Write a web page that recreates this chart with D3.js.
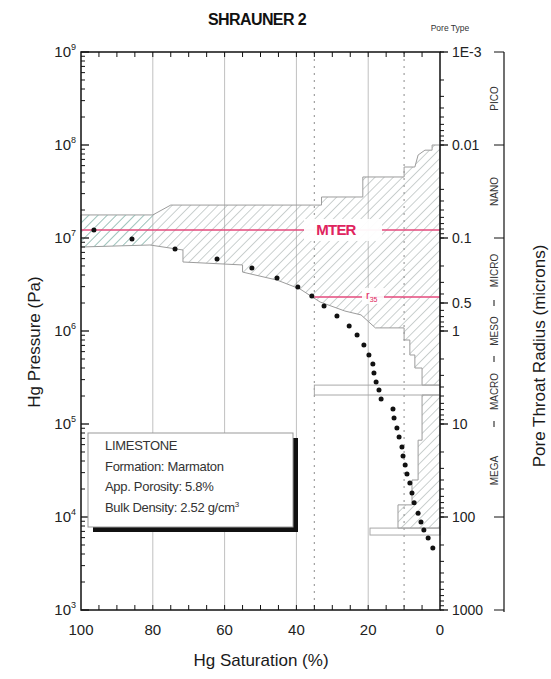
<!DOCTYPE html>
<html>
<head>
<meta charset="utf-8">
<script src="https://cdn.jsdelivr.net/npm/d3@7.9.0/dist/d3.min.js"></script>
<style>
  body { margin: 0; background: #fff; }
  svg { display: block; font-family: "Liberation Sans", Arial, sans-serif; }
</style>
</head>
<body>
<svg id="chart" width="551" height="679"></svg>
<script>
// capillary pressure points (Hg saturation %, pressure Pa)
const sat = [96.4, 85.8, 73.8, 62.1, 52.4, 45.4, 39.6, 35.7, 32.3, 28.7, 25.3, 23.1, 21.2, 19.8,
  18.7, 18.4, 17.8, 17.0, 16.4, 13.1, 12.8, 12.0, 11.4, 10.6, 10.3, 9.7, 9.2, 8.4, 7.8, 7.2,
  6.1, 5.3, 4.5, 3.3, 2.0];
const pres = [1.22e7, 9.75e6, 7.62e6, 5.94e6, 4.75e6, 3.72e6, 2.97e6, 2.38e6, 1.86e6, 1.45e6,
  1.13e6, 9.06e5, 7.07e5, 5.52e5, 4.42e5, 3.53e5, 2.83e5, 2.32e5, 1.86e5, 1.45e5, 1.16e5,
  9.06e4, 7.25e4, 5.66e4, 4.53e4, 3.62e4, 2.90e4, 2.32e4, 1.81e4, 1.42e4, 1.10e4, 8.84e3,
  7.25e3, 5.94e3, 4.64e3];

// hatched envelope outline (upper edge left->right, then lower edge right->left)
const envSat = [100, 80, 75, 33, 33, 21.5, 21.5, 10, 10, 7, 6.1, 4.2, 2.2, 2.2, 0,
  0, 5, 5, 7, 7, 8.4, 8.4, 10, 10, 18, 22, 26.5, 33.4, 39, 45.4, 55, 55, 71.6, 71.6, 80.8, 100];
const envP = [1.77e7, 1.77e7, 2.26e7, 2.26e7, 2.76e7, 2.76e7, 4.53e7, 4.53e7, 5.8e7, 5.8e7, 7.8e7, 8.8e7, 8.8e7, 1e8, 1e8,
  2.62e5, 2.62e5, 4.0e5, 4.0e5, 5.52e5, 5.52e5, 8.0e5, 8.0e5, 1.08e6, 1.08e6, 1.49e6, 1.64e6, 2.05e6, 2.83e6, 3.53e6, 4.3e6, 5.13e6, 5.52e6, 7.43e6, 8.41e6, 8.0e6];
const tealSat = [100, 80, 80.8, 100];
const tealP = [1.77e7, 1.77e7, 8.41e6, 8.0e6];
const stripSat = [5, 0, 0, 11.7, 11.7, 7.8, 7.8, 6.1, 6.1, 5];
const stripP = [2.05e5, 2.05e5, 7.6e3, 7.6e3, 1.35e4, 1.35e4, 2.5e4, 2.5e4, 6.7e4, 6.7e4];
const bandSat = [35, 0];
const bandP = [2.62e5, 2.05e5];
const footSat = [19.5, 0];
const footP = [7.6e3, 6.4e3];

const mterP = 1.22e7;
const r35P = 2.32e6;
const r35Sat = 35;
const cutoffSat = [35, 10];

const satLabels = [100, 80, 60, 40, 20, 0];
const satGrid = [80, 60, 40, 20];
const satMinor = [95, 90, 85, 80, 75, 70, 65, 60, 55, 50, 45, 40, 35, 30, 25, 20, 15, 10, 5];
const pExp = [3, 4, 5, 6, 7, 8, 9];
const radTicks = [1e-3, 0.01, 0.1, 0.5, 1, 10, 100, 1000];
const radLabels = ['1E-3', '0.01', '0.1', '0.5', '1', '10', '100', '1000'];
const poreNames = ['PICO', 'NANO', 'MICRO', 'MESO', 'MACRO', 'MEGA'];
const poreBounds = [1e-3, 0.01, 0.1, 0.5, 2, 10, 100];
const legendLines = ['LIMESTONE', 'Formation: Marmaton', 'App. Porosity: 5.8%', 'Bulk Density: 2.52 g/cm'];

const u = {left: 81, right: 440, top: 52, bottom: 610};
const svg = d3.select('#chart');

const x = d3.scaleLinear().domain([100, 0]).range([u.left, u.right]);
const y = d3.scaleLog().domain([1e3, 1e9]).range([u.bottom, u.top]);
const rScale = d3.scaleLog().domain([1e-3, 1e3]).range([u.top, u.bottom]);

const defs = svg.append('defs');
function hatch(id, color) {
  defs.append('pattern')
    .attr('id', id)
    .attr('patternUnits', 'userSpaceOnUse')
    .attr('width', 6.5).attr('height', 6.5)
    .attr('patternTransform', 'rotate(45)')
    .append('line')
      .attr('x1', 0).attr('y1', 0).attr('x2', 0).attr('y2', 6.5)
      .attr('stroke', color).attr('stroke-width', 0.9);
}
hatch('hatch', '#8c9896');
hatch('hatchTeal', '#7cc2b4');

// gridlines
svg.append('g').selectAll('line').data(satGrid).join('line')
  .attr('x1', d => x(d)).attr('x2', d => x(d))
  .attr('y1', u.top).attr('y2', u.bottom)
  .attr('stroke', '#c0c0c0').attr('stroke-width', 1);

svg.append('g').selectAll('line').data(cutoffSat).join('line')
  .attr('x1', d => x(d)).attr('x2', d => x(d))
  .attr('y1', u.top).attr('y2', u.bottom)
  .attr('stroke', '#a0a0a0').attr('stroke-width', 1.2)
  .attr('stroke-dasharray', '2,5');

const poly = (s, p) => s.map((d, i) => [x(d), y(p[i])].join(',')).join(' ');

svg.append('polygon').attr('points', poly(envSat, envP))
  .attr('fill', 'url(#hatch)').attr('stroke', '#9c9c9c').attr('stroke-width', 1);
svg.append('polygon').attr('points', poly(tealSat, tealP))
  .attr('fill', 'url(#hatchTeal)').attr('stroke', 'none');
svg.append('polygon').attr('points', poly(stripSat, stripP))
  .attr('fill', 'url(#hatch)').attr('stroke', '#9c9c9c').attr('stroke-width', 1);
svg.append('rect')
  .attr('x', x(bandSat[0])).attr('y', y(bandP[0]))
  .attr('width', x(bandSat[1]) - x(bandSat[0])).attr('height', y(bandP[1]) - y(bandP[0]))
  .attr('fill', 'none').attr('stroke', '#a8a8a8');
svg.append('rect')
  .attr('x', x(footSat[0])).attr('y', y(footP[0]))
  .attr('width', x(footSat[1]) - x(footSat[0])).attr('height', y(footP[1]) - y(footP[0]))
  .attr('fill', 'none').attr('stroke', '#a8a8a8');

// MTER and r35 lines
const pink = '#e44a7c';
svg.append('line')
  .attr('x1', u.left).attr('x2', u.right).attr('y1', y(mterP)).attr('y2', y(mterP))
  .attr('stroke', pink).attr('stroke-width', 1.6);
svg.append('rect').attr('x', 304).attr('y', y(mterP) - 11).attr('width', 78).attr('height', 22)
  .attr('fill', '#fff').attr('opacity', 0.95);
svg.append('text').attr('x', 336).attr('y', y(mterP) + 5)
  .attr('text-anchor', 'middle').attr('font-size', 15).attr('font-weight', 'bold')
  .attr('letter-spacing', -0.8).attr('fill', '#e0245e').text('MTER');

svg.append('line')
  .attr('x1', x(r35Sat)).attr('x2', u.right).attr('y1', y(r35P)).attr('y2', y(r35P))
  .attr('stroke', pink).attr('stroke-width', 1.6);
svg.append('rect').attr('x', 362).attr('y', y(r35P) - 9).attr('width', 22).attr('height', 16)
  .attr('fill', '#fff').attr('opacity', 0.9);
const r35t = svg.append('text').attr('x', 366).attr('y', y(r35P) + 2)
  .attr('font-size', 11).attr('fill', '#e0245e');
r35t.append('tspan').text('r');
r35t.append('tspan').attr('dy', 3).attr('font-size', 7).text('35');

// points
svg.append('g').selectAll('circle').data(sat).join('circle')
  .attr('cx', d => x(d)).attr('cy', (d, i) => y(pres[i]))
  .attr('r', 2.5).attr('fill', '#111');

// axes frame
const ink = '#111';
svg.append('rect').attr('x', u.left).attr('y', u.top)
  .attr('width', u.right - u.left).attr('height', u.bottom - u.top)
  .attr('fill', 'none').attr('stroke', ink).attr('stroke-width', 1.5);

// x ticks top & bottom
svg.append('g').selectAll('line').data(satMinor).join('line')
  .attr('x1', d => x(d)).attr('x2', d => x(d))
  .attr('y1', u.bottom).attr('y2', u.bottom - 5).attr('stroke', ink);
svg.append('g').selectAll('line').data(satMinor).join('line')
  .attr('x1', d => x(d)).attr('x2', d => x(d))
  .attr('y1', u.top).attr('y2', u.top + 5).attr('stroke', ink);
svg.append('g').selectAll('text').data(satLabels).join('text')
  .attr('x', d => x(d)).attr('y', 635)
  .attr('text-anchor', 'middle').attr('font-size', 15).attr('fill', '#222')
  .text(d => d);

// left pressure axis (ticks inward)
const minorP = y.ticks().filter(d => !pExp.includes(Math.round(Math.log10(d) * 1000) / 1000));
svg.append('g').selectAll('line').data(minorP).join('line')
  .attr('x1', u.left).attr('x2', u.left + 4)
  .attr('y1', d => y(d)).attr('y2', d => y(d)).attr('stroke', ink);
svg.append('g').selectAll('line').data(pExp).join('line')
  .attr('x1', u.left).attr('x2', u.left + 8)
  .attr('y1', d => y(10 ** d)).attr('y2', d => y(10 ** d)).attr('stroke', ink).attr('stroke-width', 1.3);
const yl = svg.append('g').selectAll('text').data(pExp).join('text')
  .attr('x', 76).attr('y', d => y(10 ** d) + 5)
  .attr('text-anchor', 'end').attr('font-size', 15).attr('fill', '#222');
yl.append('tspan').text('10');
yl.append('tspan').attr('dy', -7).attr('font-size', 9).text(d => d);

// right radius axis (ticks outward)
const minorR = rScale.ticks();
svg.append('g').selectAll('line').data(minorR).join('line')
  .attr('x1', u.right).attr('x2', u.right + 4)
  .attr('y1', d => rScale(d)).attr('y2', d => rScale(d)).attr('stroke', ink);
svg.append('g').selectAll('line').data(radTicks).join('line')
  .attr('x1', u.right).attr('x2', u.right + 8)
  .attr('y1', d => rScale(d)).attr('y2', d => rScale(d)).attr('stroke', ink).attr('stroke-width', 1.3);
svg.append('g').selectAll('text').data(radTicks).join('text')
  .attr('x', 452).attr('y', d => rScale(d) + 5)
  .attr('font-size', 14).attr('fill', '#222')
  .text((d, i) => radLabels[i]);

// pore type bracket
const bx = 504;
svg.append('line').attr('x1', bx).attr('x2', bx).attr('y1', u.top).attr('y2', u.bottom + 2)
  .attr('stroke', ink).attr('stroke-width', 1.2);
svg.append('g').selectAll('line').data([1e-3, 0.01, 0.1, 100, 1000]).join('line')
  .attr('x1', bx - 10).attr('x2', bx)
  .attr('y1', d => rScale(d)).attr('y2', d => rScale(d)).attr('stroke', ink);
svg.append('g').selectAll('line').data([0.5, 2, 10]).join('line')
  .attr('x1', 494).attr('x2', 494)
  .attr('y1', d => rScale(d) - 3).attr('y2', d => rScale(d) + 3).attr('stroke', ink);
svg.append('g').selectAll('text').data(poreNames).join('text')
  .attr('transform', (d, i) => {
    const mid = (rScale(poreBounds[i]) + rScale(poreBounds[i + 1])) / 2;
    return `translate(498,${mid}) rotate(-90)`;
  })
  .attr('text-anchor', 'middle').attr('font-size', 10).attr('fill', '#333')
  .text(d => d);
svg.append('text').attr('x', 450).attr('y', 31).attr('text-anchor', 'middle')
  .attr('font-size', 8.5).attr('fill', '#333').text('Pore Type');

// titles
svg.append('text').attr('x', 257).attr('y', 25).attr('text-anchor', 'middle')
  .attr('font-size', 16).attr('font-weight', 'bold').attr('letter-spacing', -0.6)
  .attr('fill', '#111').text('SHRAUNER 2');
svg.append('text').attr('x', 261).attr('y', 666).attr('text-anchor', 'middle')
  .attr('font-size', 17).attr('fill', '#1a1a1a').text('Hg Saturation (%)');
svg.append('text').attr('transform', 'translate(40,342) rotate(-90)').attr('text-anchor', 'middle')
  .attr('font-size', 17).attr('fill', '#1a1a1a').text('Hg Pressure (Pa)');
svg.append('text').attr('transform', 'translate(545,356) rotate(-90)').attr('text-anchor', 'middle')
  .attr('font-size', 17).attr('fill', '#1a1a1a').text('Pore Throat Radius (microns)');

// legend box with shadow
svg.append('rect').attr('x', 93).attr('y', 438).attr('width', 205).attr('height', 94).attr('fill', '#111');
svg.append('rect').attr('x', 88).attr('y', 433).attr('width', 205).attr('height', 94)
  .attr('fill', '#fff').attr('stroke', '#999');
const lt = svg.append('g').selectAll('text').data(legendLines).join('text')
  .attr('x', 105).attr('y', (d, i) => 450 + i * 20.5)
  .attr('font-size', 13).attr('fill', '#333').attr('letter-spacing', -0.3)
  .text(d => d);
lt.filter((d, i) => i === 3).append('tspan').attr('dy', -5).attr('font-size', 8).text('3');
</script>
</body>
</html>
